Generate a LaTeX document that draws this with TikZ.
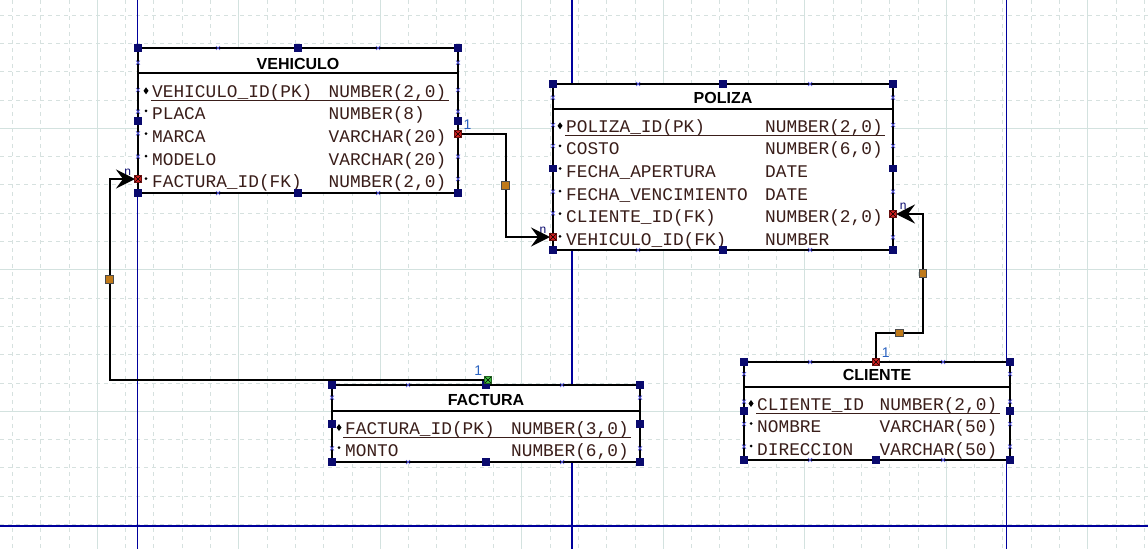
\documentclass[tikz,border=0pt]{standalone}
\usepackage{fontspec}
\setmainfont{Liberation Sans}
\newfontfamily\monof{Liberation Mono}
\usetikzlibrary{arrows.meta,calc}
\definecolor{gridc}{HTML}{D3E2DF}
\definecolor{griddc}{HTML}{D6E1DF}
\definecolor{pageb}{HTML}{00009C}
\definecolor{navyc}{HTML}{0A0A6E}
\definecolor{xmc}{HTML}{5A5AE6}
\definecolor{txtc}{HTML}{3A1E1A}
\definecolor{redc}{HTML}{D02020}
\definecolor{orc}{HTML}{C07A1A}
\definecolor{grc}{HTML}{40C040}
\definecolor{lblc}{HTML}{2A62C0}
\tikzset{
 tbl/.style={draw=black, fill=white, line width=2pt, rectangle, inner sep=0pt, outer sep=0pt, anchor=north west},
 fld/.style={font=\monof\fontsize{17.8}{20}\selectfont, text=txtc, inner sep=0pt, anchor=base west},
 ttl/.style={font=\bfseries\fontsize{16}{18}\selectfont, inner sep=0pt, anchor=base},
 conn/.style={line width=2pt, draw=black},
 arr/.style={-{Stealth[length=19pt,width=19pt,inset=7pt]}, shorten >=3pt},
 lbl/.style={font=\fontsize{14}{15}\selectfont, text=lblc, inner sep=0pt},
 nlbl/.style={font=\fontsize{12}{13}\selectfont, text=navyc, inner sep=0pt},
 cpt/.style={rectangle, minimum size=7pt, inner sep=0pt, draw=#1!50!black, line width=0.6pt, fill=#1,
   path picture={\draw[black,line width=0.5pt] (path picture bounding box.south west)--(path picture bounding box.north east) (path picture bounding box.north west)--(path picture bounding box.south east);}},
 osq/.style={rectangle, minimum size=7.5pt, inner sep=0pt, draw=black!70, line width=0.6pt, fill=orc},
 hdr/.style={line width=2pt, draw=black},
 uln/.style={line width=1pt, draw=txtc},
}
\newcommand\frow[6]{%
 \node[fld] (#6a) at (#1,#3) {#4};
 \node[fld] (#6b) at (#2,#3) {#5};
 \fill[black] ({#1-6},{#3-9}) circle[radius=1.5pt];}
\newcommand\pkrow[6]{%
 \node[fld] (#6a) at (#1,#3) {#4};
 \node[fld] (#6b) at (#2,#3) {#5};
 \fill[black] ({#1-6},{#3-10}) -- ({#1-3.5},{#3-6.5}) -- ({#1-6},{#3-3}) -- ({#1-8.5},{#3-6.5}) -- cycle;}
\newcommand\xmk[2]{\draw[xmc,line width=0.7pt] ({#1-2},{#2-2}) -- ({#1+2},{#2+2}) ({#1-2},{#2+2}) -- ({#1+2},{#2-2});}
\begin{document}
\begin{tikzpicture}[x=1pt,y=-1pt]
\useasboundingbox (0,0) rectangle (1148,549);
\fill[white] (0,0) rectangle (1148,549);
% grid
\foreach \k in {0,...,40} {\pgfmathsetmacro\xx{12.4+28.3*\k}
  \draw[griddc,line width=1pt,dash pattern=on 4pt off 4pt] (\xx,0) -- (\xx,549);}
\foreach \k in {0,...,19} {\pgfmathsetmacro\yy{15.1+28.3*\k}
  \draw[griddc,line width=1pt,dash pattern=on 4pt off 4pt] (0,\yy) -- (1148,\yy);}
\foreach \k in {0,...,7} {\pgfmathsetmacro\xx{97.3+141.5*\k}
  \draw[gridc,line width=1pt] (\xx,0) -- (\xx,549);}
\foreach \k in {0,...,2} {\pgfmathsetmacro\yy{128.3+141.5*\k}
  \draw[gridc,line width=1pt] (0,\yy) -- (1148,\yy);}
% page lines
\draw[pageb,line width=1.2pt] (137.3,0) -- (137.3,549);
\draw[pageb,line width=1.2pt] (572,0) -- (572,549);
\draw[pageb,line width=1.2pt] (1006.3,0) -- (1006.3,549);
\draw[pageb,line width=1.2pt] (0,526) -- (1148,526);

% ---------- VEHICULO
\node[tbl, minimum width=320pt, minimum height=145pt] (veh) at (138,48) {};
\node[ttl] (vehT) at (298,69.3) {VEHICULO};
\draw[hdr] (138,73.3) -- (458,73.3);
\pkrow{152}{328.5}{97.3}{VEHICULO\_ID(PK)}{NUMBER(2,0)}{v1}
\draw[uln] (151,100.5) -- (449,100.5);
\frow{152}{328.5}{119.9}{PLACA}{NUMBER(8)}{v2}
\frow{152}{328.5}{142.5}{MARCA}{VARCHAR(20)}{v3}
\frow{152}{328.5}{165.1}{MODELO}{VARCHAR(20)}{v4}
\frow{152}{328.5}{187.7}{FACTURA\_ID(FK)}{NUMBER(2,0)}{v5}

% ---------- POLIZA
\node[tbl, minimum width=340pt, minimum height=166pt] (pol) at (553,84) {};
\node[ttl] (polT) at (723,103.3) {POLIZA};
\draw[hdr] (553,109.3) -- (893,109.3);
\pkrow{566}{765}{132.3}{POLIZA\_ID(PK)}{NUMBER(2,0)}{p1}
\draw[uln] (565,135.3) -- (885,135.3);
\frow{566}{765}{154.9}{COSTO}{NUMBER(6,0)}{p2}
\frow{566}{765}{177.5}{FECHA\_APERTURA}{DATE}{p3}
\frow{566}{765}{200.1}{FECHA\_VENCIMIENTO}{DATE}{p4}
\frow{566}{765}{222.7}{CLIENTE\_ID(FK)}{NUMBER(2,0)}{p5}
\frow{566}{765}{245.3}{VEHICULO\_ID(FK)}{NUMBER}{p6}

% ---------- FACTURA
\node[tbl, minimum width=308pt, minimum height=77pt] (fac) at (332,385) {};
\node[ttl] (facT) at (486,405.7) {FACTURA};
\draw[hdr] (332,410.7) -- (640,410.7);
\pkrow{345}{511}{434}{FACTURA\_ID(PK)}{NUMBER(3,0)}{f1}
\draw[uln] (343,437) -- (631,437);
\frow{345}{511}{456.5}{MONTO}{NUMBER(6,0)}{f2}

% ---------- CLIENTE
\node[tbl, minimum width=266pt, minimum height=98pt] (cli) at (744,362) {};
\node[ttl] (cliT) at (877,380.7) {CLIENTE};
\draw[hdr] (744,387) -- (1010,387);
\pkrow{757}{879.5}{410}{CLIENTE\_ID}{NUMBER(2,0)}{c1}
\draw[uln] (756,413) -- (1000,413);
\frow{757}{879.5}{432.5}{NOMBRE}{VARCHAR(50)}{c2}
\frow{757}{879.5}{455}{DIRECCION}{VARCHAR(50)}{c3}

% ---------- edge x marks
\foreach \xx in {218,378} {\xmk{\xx}{48}\xmk{\xx}{193}}
\foreach \yy in {62.7,90,111.7,133.3,156.7} {\xmk{138}{\yy}}
\foreach \yy in {62.7,90,111.7,156.7,179} {\xmk{458}{\yy}}
\foreach \xx in {638,810} {\xmk{\xx}{84}\xmk{\xx}{250}}
\foreach \yy in {97.7,125,146,191.7,213.3} {\xmk{553}{\yy}}
\foreach \yy in {97.7,125,146,191.7,237.3} {\xmk{893}{\yy}}
\foreach \xx in {408,562} {\xmk{\xx}{385}\xmk{\xx}{462}}
\foreach \yy in {397.7,448.3} {\xmk{332}{\yy}\xmk{640}{\yy}}
\foreach \xx in {810,943} {\xmk{\xx}{362}\xmk{\xx}{460}}
\foreach \yy in {374,401.7,424,446.7} {\xmk{744}{\yy}\xmk{1010}{\yy}}

% ---------- connection points
\coordinate (vR) at (458,134);
\coordinate (vL) at (138,179);
\coordinate (pL) at (553,237);
\coordinate (pR) at (893,214);
\coordinate (fT) at (488,380);
\coordinate (cT) at (876,362);

% labels
\node[lbl] (l1) at (467.5,124.5) {1};
\node[lbl] (l2) at (478.3,371) {1};
\node[lbl] (l3) at (885.7,352.5) {1};
\node[nlbl] (n1) at (127.7,172.5) {n};
\node[nlbl] (n2) at (543,230) {n};
\node[nlbl] (n3) at (903.3,206) {n};

% connectors
\draw[conn,arr] (vR) -| ($(vR)!0.5!(pL)$) |- (pL);
\draw[conn,arr] (fT) -- (109.5,380) |- (vL);
\draw[conn,arr] (cT) |- (922.7,333) |- (pR);

% handles
\foreach \p in {(138,48),(298,48),(458,48),(138,121),(458,121),(138,193),(298,193),(458,193)} {\fill[navyc] \p ++(-3.6,-3.6) rectangle ++(7.2,7.2);}
\foreach \p in {(553,84),(723,84),(893,84),(553,168.3),(893,168.3),(553,250),(723,250),(893,250)} {\fill[navyc] \p ++(-3.6,-3.6) rectangle ++(7.2,7.2);}
\foreach \p in {(332,385),(486,385),(640,385),(332,424),(640,424),(332,462),(486,462),(640,462)} {\fill[navyc] \p ++(-3.6,-3.6) rectangle ++(7.2,7.2);}
\foreach \p in {(744,362),(1010,362),(744,411),(1010,411),(744,460),(876,460),(1010,460)} {\fill[navyc] \p ++(-3.6,-3.6) rectangle ++(7.2,7.2);}

\node[cpt=redc] (mvR) at (vR) {};
\node[cpt=redc] (mvL) at (vL) {};
\node[cpt=redc] (mpL) at (pL) {};
\node[cpt=redc] (mpR) at (pR) {};
\node[cpt=redc] (mcT) at (cT) {};
\node[cpt=grc] (mfT) at (fT) {};
\node[osq] (o1) at (505.5,185.5) {};
\node[osq] (o2) at (109.5,279.5) {};
\node[osq] (o3) at (899.3,333) {};
\node[osq] (o4) at (922.7,273.5) {};
\end{tikzpicture}
\end{document}
